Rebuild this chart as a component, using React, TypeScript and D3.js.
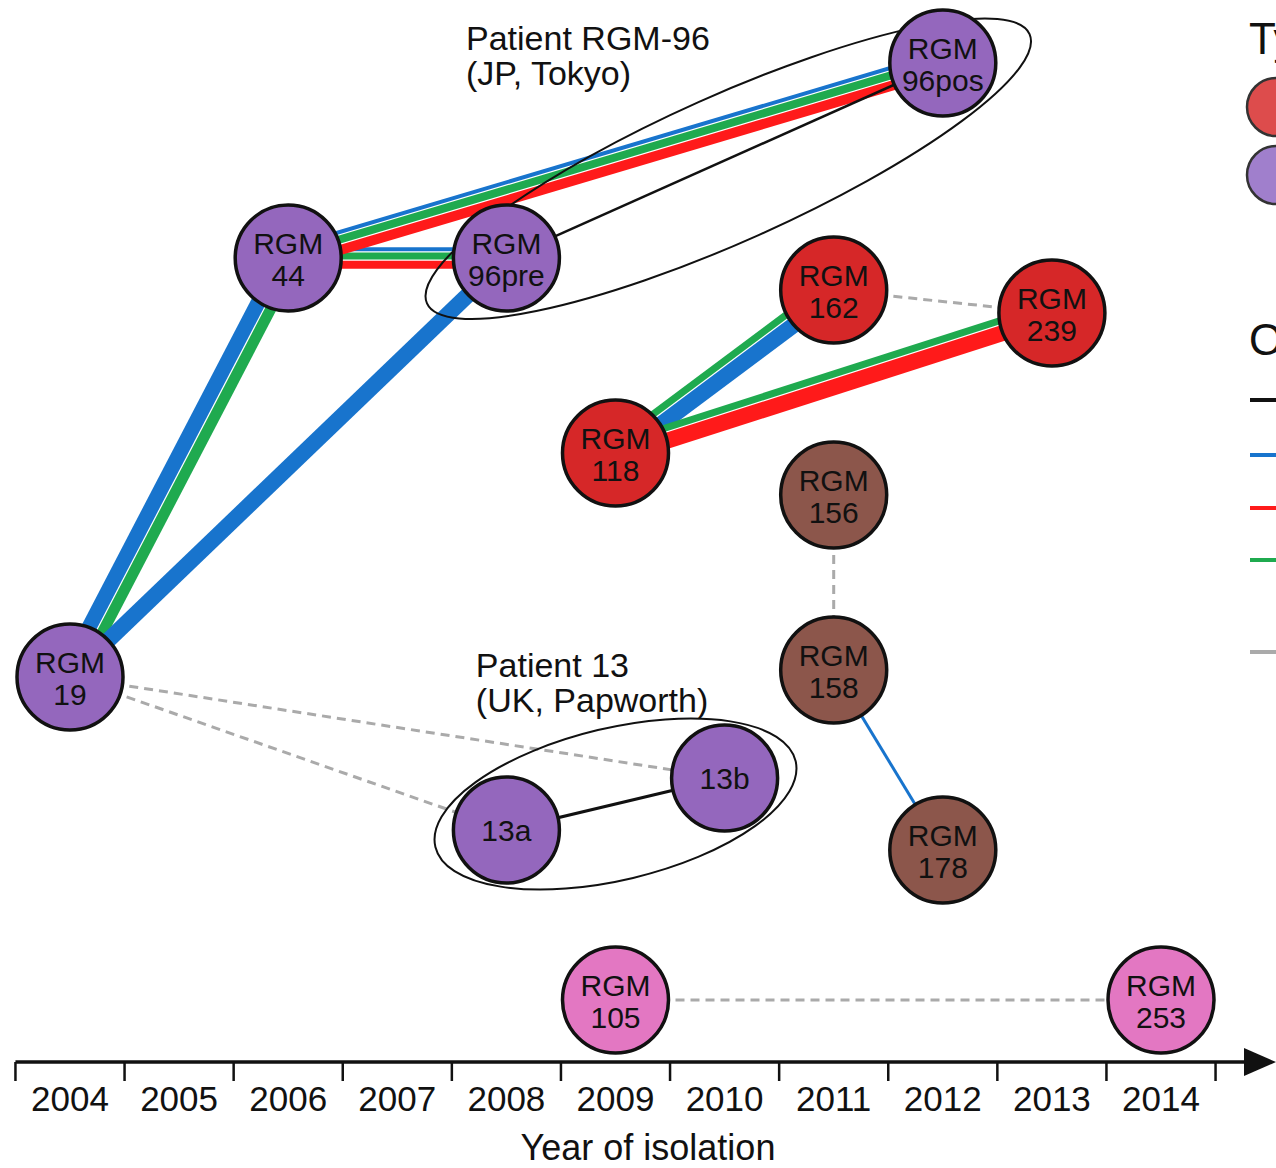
import React from "react";
import * as d3 from "d3";

const W = 1276;
const H = 1168;

const years = [2004, 2005, 2006, 2007, 2008, 2009, 2010, 2011, 2012, 2013, 2014];

const nodeIds = ["19", "44", "96pre", "96pos", "162", "239", "118", "156", "158", "178", "13a", "13b", "105", "253"];
const nodeLine1 = ["RGM", "RGM", "RGM", "RGM", "RGM", "RGM", "RGM", "RGM", "RGM", "RGM", "13a", "13b", "RGM", "RGM"];
const nodeLine2 = ["19", "44", "96pre", "96pos", "162", "239", "118", "156", "158", "178", "", "", "105", "253"];
const nodeYears = [2004, 2006, 2008, 2012, 2011, 2013, 2009, 2011, 2011, 2012, 2008, 2010, 2009, 2014];
const nodeRows = [677, 258, 258, 63, 290, 313, 453, 495, 670, 850, 830, 778, 1000, 1000];
const nodeGroup = ["purple", "purple", "purple", "purple", "red", "red", "red", "brown", "brown", "brown", "purple", "purple", "pink", "pink"];

const groupColors: Record<string, string> = {
  purple: "#9467bd",
  red: "#d62728",
  brown: "#8c564b",
  pink: "#e377c2",
};

const bandColors: Record<string, string> = {
  black: "#111111",
  blue: "#1874cd",
  red: "#ff1a1a",
  green: "#1faa4f",
};

// edges: source, target, bands [color, width] ordered along the normal
const edgeSource = ["19", "19", "44", "44", "96pre", "118", "118", "158", "13a"];
const edgeTarget = ["44", "96pre", "96pre", "96pos", "96pos", "162", "239", "178", "13b"];
const edgeBands: [string, number][][] = [
  [["blue", 15], ["green", 11]],
  [["blue", 16]],
  [["blue", 4], ["green", 7], ["red", 8]],
  [["blue", 4], ["green", 8], ["red", 10]],
  [["black", 2.5]],
  [["green", 7], ["blue", 16]],
  [["green", 7], ["red", 16]],
  [["blue", 3]],
  [["black", 3]],
];

const dashSource = ["162", "156", "19", "19", "105"];
const dashTarget = ["239", "158", "13b", "13a", "253"];

const patientMembers = [["96pre", "96pos"], ["13a", "13b"]];
const patientPad = [91, 73];
const patientRy = [73, 76];
const patientShift = [9, 0];
const patientLine1 = ["Patient RGM-96", "Patient 13"];
const patientLine2 = ["(JP, Tokyo)", "(UK, Papworth)"];
const patientLabelYear = [2007.63, 2007.72];
const patientLabelRow = [50, 677];

const legendTitles = ["Type", "Origin"];
const legendTitleRows = [54, 355];
const legendCircleGroups = ["#dd4c4c", "#a07fcc"];
const legendCircleRows = [107, 175];
const legendLineColors = ["#111111", "#1874cd", "#ff1a1a", "#1faa4f", "#aaaaaa"];
const legendLineRows = [400, 455, 508, 560, 652];

const FONT = "'Liberation Sans', Arial, Helvetica, sans-serif";

export default function App() {
  const x = d3.scaleLinear().domain([2004, 2014]).range([70, 1161]);
  const y = d3.scaleLinear().domain([0, 1000]).range([0, 1000]);
  const R = 53;
  const axisY = 1062;
  const step = x(2005) - x(2004);

  const pos = (id: string) => {
    const i = nodeIds.indexOf(id);
    return { x: x(nodeYears[i]), y: y(nodeRows[i]) };
  };

  const bandLines: JSX.Element[] = [];
  edgeSource.forEach((s, ei) => {
    const a = pos(s);
    const b = pos(edgeTarget[ei]);
    const dx = b.x - a.x;
    const dy = b.y - a.y;
    const len = Math.hypot(dx, dy);
    const nx = -dy / len;
    const ny = dx / len;
    const bands = edgeBands[ei];
    const gap = bands.length > 1 ? 1.2 : 0;
    const total = d3.sum(bands, (d) => d[1]) + gap * (bands.length - 1);
    let off = -total / 2;
    bands.forEach(([c, w], bi) => {
      const o = off + w / 2;
      bandLines.push(
        <line
          key={`e${ei}-${bi}`}
          x1={a.x + nx * o}
          y1={a.y + ny * o}
          x2={b.x + nx * o}
          y2={b.y + ny * o}
          stroke={bandColors[c]}
          strokeWidth={w}
        />
      );
      off += w + gap;
    });
  });

  const line = d3.line();

  return (
    <svg width={W} height={H} style={{ position: "absolute", left: 0, top: 0, background: "#fff" }} fontFamily={FONT}>
      <rect width={W} height={H} fill="#fff" />
      {/* dashed links */}
      {dashSource.map((s, i) => {
        const a = pos(s);
        const b = pos(dashTarget[i]);
        return (
          <line key={`d${i}`} x1={a.x} y1={a.y} x2={b.x} y2={b.y} stroke="#aaaaaa" strokeWidth={3} strokeDasharray="9,6" />
        );
      })}
      {bandLines}
      {/* patient ellipses */}
      {patientMembers.map((m, i) => {
        const a = pos(m[0]);
        const b = pos(m[1]);
        const dx = b.x - a.x;
        const dy = b.y - a.y;
        const len = Math.hypot(dx, dy);
        const cx = (a.x + b.x) / 2 + (-dy / len) * patientShift[i];
        const cy = (a.y + b.y) / 2 + (dx / len) * patientShift[i];
        const ang = (Math.atan2(dy, dx) * 180) / Math.PI;
        const rx = len / 2 + patientPad[i];
        return (
          <ellipse
            key={`p${i}`}
            cx={cx}
            cy={cy}
            rx={rx}
            ry={patientRy[i]}
            transform={`rotate(${ang} ${cx} ${cy})`}
            fill="none"
            stroke="#111"
            strokeWidth={2}
          />
        );
      })}
      {/* nodes */}
      {nodeIds.map((id, i) => {
        const p = pos(id);
        const two = nodeLine2[i] !== "";
        return (
          <g key={`n${id}`}>
            <circle cx={p.x} cy={p.y} r={R} fill={groupColors[nodeGroup[i]]} stroke="#111" strokeWidth={3.5} />
            {two ? (
              <>
                <text x={p.x} y={p.y - 4} textAnchor="middle" fontSize={30} fill="#111">
                  {nodeLine1[i]}
                </text>
                <text x={p.x} y={p.y + 28} textAnchor="middle" fontSize={30} fill="#111">
                  {nodeLine2[i]}
                </text>
              </>
            ) : (
              <text x={p.x} y={p.y + 11} textAnchor="middle" fontSize={30} fill="#111">
                {nodeLine1[i]}
              </text>
            )}
          </g>
        );
      })}
      {/* patient labels */}
      {patientLine1.map((t, i) => (
        <g key={`pl${i}`}>
          <text x={x(patientLabelYear[i])} y={y(patientLabelRow[i])} fontSize={34} fill="#111">
            {t}
          </text>
          <text x={x(patientLabelYear[i])} y={y(patientLabelRow[i]) + 35} fontSize={34} fill="#111">
            {patientLine2[i]}
          </text>
        </g>
      ))}
      {/* axis */}
      <line x1={x(2003.5)} y1={axisY} x2={1252} y2={axisY} stroke="#111" strokeWidth={3.5} />
      <path d={line([[1244, axisY - 14], [1276, axisY], [1244, axisY + 14]]) + "Z"} fill="#111" />
      {d3.range(years.length + 1).map((k) => {
        const tx = x(years[0] - 0.5) + k * step;
        return <line key={`t${k}`} x1={tx} y1={axisY} x2={tx} y2={axisY + 19} stroke="#111" strokeWidth={2.5} />;
      })}
      {years.map((yr) => (
        <text key={`y${yr}`} x={x(yr)} y={1111} textAnchor="middle" fontSize={35} fill="#111">
          {yr}
        </text>
      ))}
      <text x={648} y={1160} textAnchor="middle" fontSize={36} fill="#111">
        Year of isolation
      </text>
      {/* legend (cut off at right edge, as in the reference) */}
      {legendTitles.map((t, i) => (
        <text key={`lt${i}`} x={1249} y={legendTitleRows[i]} fontSize={44} fill="#111">
          {t}
        </text>
      ))}
      {legendCircleGroups.map((c, i) => (
        <circle key={`lc${i}`} cx={1276} cy={legendCircleRows[i]} r={29} fill={c} stroke="#333" strokeWidth={2.5} />
      ))}
      {legendLineColors.map((c, i) => (
        <line key={`ll${i}`} x1={1250} y1={legendLineRows[i]} x2={1300} y2={legendLineRows[i]} stroke={c} strokeWidth={4} />
      ))}
    </svg>
  );
}
